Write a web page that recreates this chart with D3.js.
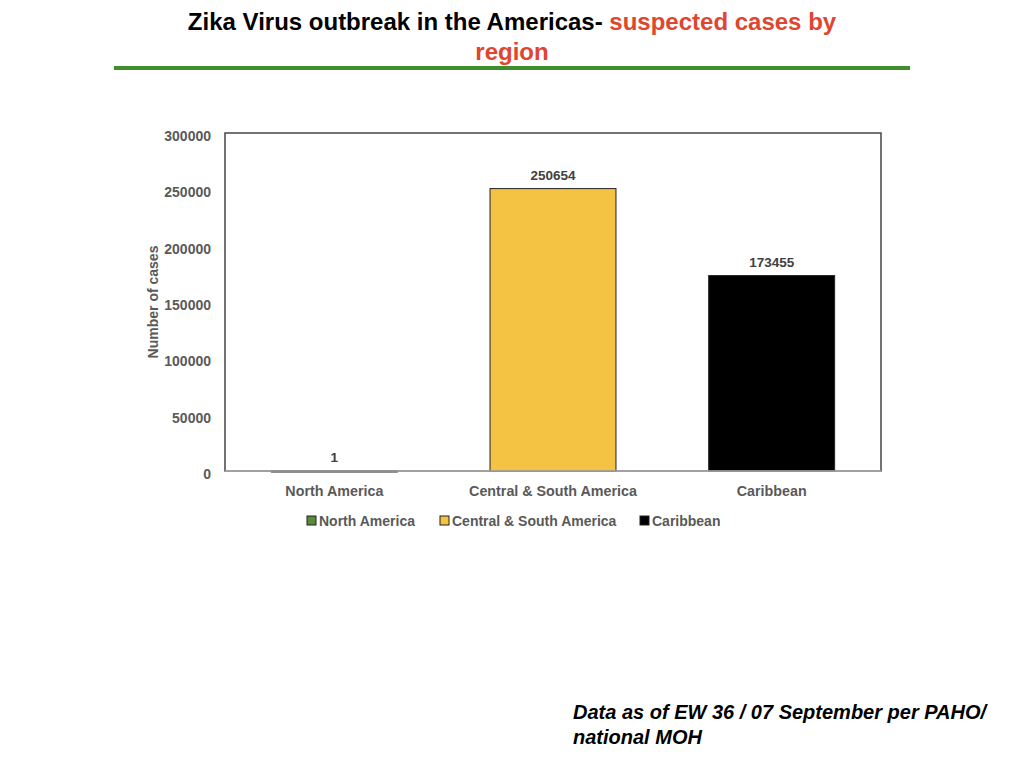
<!DOCTYPE html>
<html><head><meta charset="utf-8">
<script src="https://cdn.jsdelivr.net/npm/d3@7/dist/d3.min.js"></script>
<style>body{margin:0;background:#fff;} svg{display:block;}</style>
</head><body>
<svg id="c" width="1024" height="768"></svg>
<script>
const categories = ["North America", "Central & South America", "Caribbean"];
const values = [1, 250654, 173455];
const colors = ["#5b8a3c", "#f4c343", "#000000"];
const yTicks = [0, 50000, 100000, 150000, 200000, 250000, 300000];

const svg = d3.select("#c");
const m = {left: 225, right: 881, top: 133, bottom: 471};

// Title
const tfont = "'Liberation Sans Narrow', 'Arial Narrow', 'Liberation Sans', sans-serif";
const t1 = svg.append("text").attr("x", 512).attr("y", 30).attr("text-anchor", "middle")
  .style("font-family", tfont).style("font-weight", "bold").style("font-size", "24px");
t1.append("tspan").attr("fill", "#000").text("Zika Virus outbreak in the Americas- ");
t1.append("tspan").attr("fill", "#e0452f").text("suspected cases by");
svg.append("text").attr("x", 512).attr("y", 60).attr("text-anchor", "middle")
  .style("font-family", tfont).style("font-weight", "bold").style("font-size", "24px").attr("fill", "#e0452f").text("region");
svg.append("rect").attr("x", 114).attr("y", 66).attr("width", 796).attr("height", 4).attr("fill", "#3e8e2e");

const x = d3.scaleBand().domain(categories).range([m.left, m.right]).paddingInner(0.424).paddingOuter(0.212);
const y = d3.scaleLinear().domain([0, 300000]).range([m.bottom, m.top]);

const font = "'Liberation Sans', Arial, sans-serif";

// frame
svg.append("rect").attr("x", m.left).attr("y", m.top).attr("width", m.right - m.left).attr("height", m.bottom - m.top)
  .attr("fill", "none").attr("stroke", "#444").attr("stroke-width", 1.5);

// bars
svg.selectAll("rect.bar").data(values).enter().append("rect").attr("class", "bar")
  .attr("x", (d, i) => x(categories[i]))
  .attr("width", x.bandwidth())
  .attr("y", d => y(d))
  .attr("height", d => Math.max(1, y(0) - y(d)))
  .attr("fill", (d, i) => colors[i])
  .attr("stroke", "#222").attr("stroke-width", 1);

// bottom axis line
svg.append("line").attr("x1", m.left).attr("x2", m.right).attr("y1", m.bottom).attr("y2", m.bottom)
  .attr("stroke", "#b0b0b0").attr("stroke-width", 1.5);

// y axis
const yAxis = d3.axisLeft(y).tickValues(yTicks).tickSize(0).tickPadding(14).tickFormat(d3.format("d"));
const ga = svg.append("g").attr("transform", `translate(${m.left},3)`).call(yAxis);
ga.select(".domain").remove();
ga.selectAll("text").style("font-family", font).style("font-weight", "bold").style("font-size", "14px").attr("fill", "#595959");

// x axis
const xAxis = d3.axisBottom(x).tickSize(0).tickPadding(15);
const gx = svg.append("g").attr("transform", `translate(0,${m.bottom})`).call(xAxis);
gx.select(".domain").remove();
gx.selectAll("text").style("font-family", font).style("font-weight", "bold").style("font-size", "14.3px").attr("fill", "#595959");

// data labels
svg.selectAll("text.lbl").data(values).enter().append("text").attr("class", "lbl")
  .attr("x", (d, i) => x(categories[i]) + x.bandwidth() / 2)
  .attr("y", d => y(d) - 9)
  .attr("text-anchor", "middle")
  .style("font-family", font).style("font-weight", "bold").style("font-size", "13.5px").attr("fill", "#404040")
  .text(d => d);

// y title
svg.append("text").attr("transform", `translate(158,${(m.top + m.bottom) / 2}) rotate(-90)`)
  .attr("text-anchor", "middle")
  .style("font-family", font).style("font-weight", "bold").style("font-size", "14px").attr("fill", "#595959")
  .text("Number of cases");

// legend
const legX = [307, 440, 640];
const lg = svg.selectAll("g.leg").data(categories).enter().append("g").attr("class", "leg")
  .attr("transform", (d, i) => `translate(${legX[i]},516)`);
lg.append("rect").attr("width", 9).attr("height", 9).attr("fill", (d, i) => colors[i]).attr("stroke", "#222").attr("stroke-width", 1);
lg.append("text").attr("x", 12).attr("y", 10)
  .style("font-family", font).style("font-weight", "bold").style("font-size", "14px").attr("fill", "#595959")
  .text(d => d);

// footnote
const fn = ["Data as of EW 36 / 07 September per PAHO/", "national MOH"];
svg.selectAll("text.fn").data(fn).enter().append("text").attr("class", "fn")
  .attr("x", 573).attr("y", (d, i) => 719 + i * 25)
  .style("font-family", font).style("font-weight", "bold").style("font-style", "italic").style("font-size", "20px").attr("fill", "#000")
  .text(d => d);
</script>
</body></html>
